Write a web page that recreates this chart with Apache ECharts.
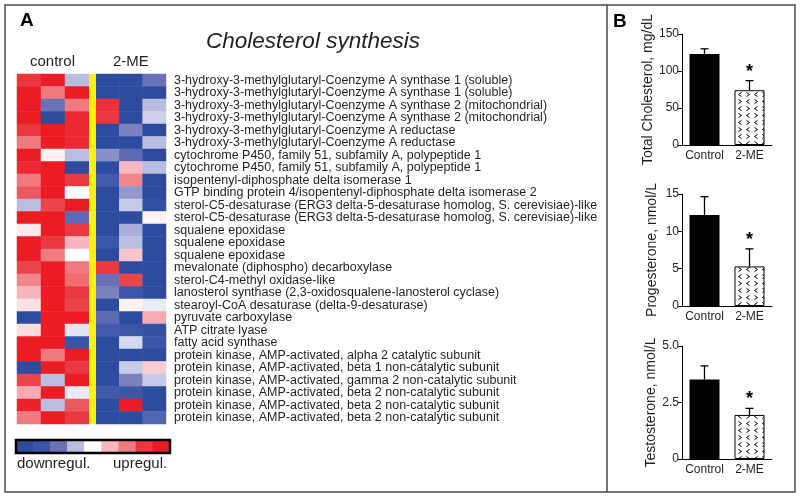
<!DOCTYPE html>
<html>
<head>
<meta charset="utf-8">
<script src="https://cdn.jsdelivr.net/npm/echarts@6/dist/echarts.min.js"></script>
<style>
html,body{margin:0;padding:0;background:#fff;}
#chart{width:800px;height:498px;}
</style>
</head>
<body>
<div id="chart"></div>
<script>
// ---------- DATA ----------
const geneLabels = [
  '3-hydroxy-3-methylglutaryl-Coenzyme A synthase 1 (soluble)',
  '3-hydroxy-3-methylglutaryl-Coenzyme A synthase 1 (soluble)',
  '3-hydroxy-3-methylglutaryl-Coenzyme A synthase 2 (mitochondrial)',
  '3-hydroxy-3-methylglutaryl-Coenzyme A synthase 2 (mitochondrial)',
  '3-hydroxy-3-methylglutaryl-Coenzyme A reductase',
  '3-hydroxy-3-methylglutaryl-Coenzyme A reductase',
  'cytochrome P450, family 51, subfamily A, polypeptide 1',
  'cytochrome P450, family 51, subfamily A, polypeptide 1',
  'isopentenyl-diphosphate delta isomerase 1',
  'GTP binding protein 4/isopentenyl-diphosphate delta isomerase 2',
  'sterol-C5-desaturase (ERG3 delta-5-desaturase homolog, S. cerevisiae)-like',
  'sterol-C5-desaturase (ERG3 delta-5-desaturase homolog, S. cerevisiae)-like',
  'squalene epoxidase',
  'squalene epoxidase',
  'squalene epoxidase',
  'mevalonate (diphospho) decarboxylase',
  'sterol-C4-methyl oxidase-like',
  'lanosterol synthase (2,3-oxidosqualene-lanosterol cyclase)',
  'stearoyl-CoA desaturase (delta-9-desaturase)',
  'pyruvate carboxylase',
  'ATP citrate lyase',
  'fatty acid synthase',
  'protein kinase, AMP-activated, alpha 2 catalytic subunit',
  'protein kinase, AMP-activated, beta 1 non-catalytic subunit',
  'protein kinase, AMP-activated, gamma 2 non-catalytic subunit',
  'protein kinase, AMP-activated, beta 2 non-catalytic subunit',
  'protein kinase, AMP-activated, beta 2 non-catalytic subunit',
  'protein kinase, AMP-activated, beta 2 non-catalytic subunit'
];
const controlCols = ['c1','c2','c3'];
const meCols = ['m1','m2','m3'];
const controlValues = [
  [3,4,-1],[4,2,4],[4,-2,2],[4,-4,3.5],[3,4,3.5],[2,4,3.5],[4,0.2,-1],[3.5,4,-4],
  [2,4,3],[2.5,4,0],[-1,2.8,4],[4,4,-2.3],[0.3,4,3],[4,3,1],[4,2,0],[2.8,4,2],
  [1.8,4,2.2],[1,4,3],[0.4,4,2.8],[-4,4,4],[0.5,4,-0.4],[4,4,-3],[4,2,4],[-4,4,3],
  [2.8,-1,4],[1.2,4,-0.3],[3.8,-1,2.5],[2,4,3]
];
const meValues = [
  [-4,-4,-2],[-4,-4,-4],[3.3,-4,-1],[3,-4,-0.7],[-4,-1.8,-4],[-4,-4,-1],[-1.6,-2.3,-4],[-4,1,-1],
  [-2.8,1.8,-4],[-4,-1.5,-4],[-4,-0.8,-3.5],[-4,-4,0.2],[-4,-1.2,-4],[-3,-1,-4],[-4,0.8,-4],[3,-4,-4],
  [-2,2.8,-4],[-1.8,-3,-4],[-4,0.2,-0.3],[-2.3,-4,1.2],[-2.8,-3,-3.5],[-4,-0.6,-3],[-4,-4,-4],[-4,-0.8,0.7],
  [-4,-1.8,-0.8],[-2.8,-3,-4],[-4,4,-4],[-4,-4,-2.5]
];
const colorbarSteps = [-4,-3,-2,-1,0,1,2,3,4];
const heatColors = ['#2e4c9f','#3b55a9','#6a72b7','#b9bde0','#ffffff','#f8b7bf','#f07a80','#ea383f','#ec1c24'];

const groups = ['Control','2-ME'];
const cholMean = [123, 74];
const cholErr = [7, 13];
const progMean = [12.2, 5.3];
const progErr = [2.45, 2.35];
const testMean = [3.52, 1.95];
const testErr = [0.6, 0.29];
const significant = [0, 1];
const cholTicks = {min:0, max:150, interval:50, decimals:0};
const progTicks = {min:0, max:15, interval:5, decimals:0};
const testTicks = {min:0, max:5, interval:2.5, decimals:1};

// ---------- BUILD ----------
const FONT = "'Liberation Sans', Arial, sans-serif";
const TXT = '#231f20';

function heatData(rows){
  const out = [];
  rows.forEach((r, yi) => r.forEach((v, xi) => out.push([xi, yi, v])));
  return out;
}

// chevron pattern for 2-ME bars
const pat = document.createElement('canvas');
pat.width = 16; pat.height = 14;
(function(){
  const c = pat.getContext('2d');
  c.fillStyle = '#fff'; c.fillRect(0,0,16,14);
  c.strokeStyle = '#000'; c.lineWidth = 1;
  function gt(x,y){c.beginPath();c.moveTo(x,y);c.lineTo(x+3,y+2);c.lineTo(x,y+4);c.stroke();}
  function lt(x,y){c.beginPath();c.moveTo(x+3,y);c.lineTo(x,y+2);c.lineTo(x+3,y+4);c.stroke();}
  gt(2.5,1.5); lt(10.5,1.5); lt(2.5,8.5); gt(10.5,8.5);
})();

function errRender(params, api){
  const x = api.value(0), m = api.value(1), e = api.value(2), s = api.value(3);
  const p0 = api.coord([x, m]);
  const p1 = api.coord([x, m + e]);
  const ch = [
    {type:'line', shape:{x1:p0[0], y1:p0[1], x2:p1[0], y2:p1[1]}, style:{stroke:'#000', lineWidth:1.3}},
    {type:'line', shape:{x1:p1[0]-4, y1:p1[1], x2:p1[0]+4, y2:p1[1]}, style:{stroke:'#000', lineWidth:1.3}}
  ];
  if (s) ch.push({type:'text', style:{text:'*', x:p1[0], y:p1[1]-9, align:'center', verticalAlign:'middle', font:'bold 18px ' + FONT, fill:'#000'}});
  return {type:'group', children: ch};
}

const barGrids = [
  {top:34, height:111, name:'Total Cholesterol, mg/dL', ticks:cholTicks, mean:cholMean, err:cholErr},
  {top:194, height:112, name:'Progesterone, nmol/L', ticks:progTicks, mean:progMean, err:progErr},
  {top:346, height:113, name:'Testosterone, nmol/L', ticks:testTicks, mean:testMean, err:testErr}
];

const grid = [
  {left:17, top:74, width:72, height:350},
  {left:96, top:74, width:70, height:350},
  {left:16, top:440, width:154, height:13}
];
const xAxis = [
  {gridIndex:0, type:'category', data:controlCols, show:false},
  {gridIndex:1, type:'category', data:meCols, show:false},
  {gridIndex:2, type:'category', data:colorbarSteps.map(String), show:false}
];
const yAxis = [
  {gridIndex:0, type:'category', data:geneLabels, inverse:true, show:false},
  {gridIndex:1, type:'category', data:geneLabels, inverse:true, position:'right',
    axisLine:{show:false}, axisTick:{show:false}, splitLine:{show:false},
    axisLabel:{interval:0, margin:8, fontSize:12.5, fontFamily:FONT, color:TXT}},
  {gridIndex:2, type:'category', data:['s'], show:false}
];
const series = [
  {type:'heatmap', xAxisIndex:0, yAxisIndex:0, data:heatData(controlValues), emphasis:{disabled:true}},
  {type:'heatmap', xAxisIndex:1, yAxisIndex:1, data:heatData(meValues), emphasis:{disabled:true}},
  {type:'heatmap', xAxisIndex:2, yAxisIndex:2, data:colorbarSteps.map((v,i)=>[i,0,v]), emphasis:{disabled:true}}
];

barGrids.forEach((g, k) => {
  const gi = 3 + k;
  grid.push({left:682, top:g.top, width:90, height:g.height});
  xAxis.push({gridIndex:gi, type:'category', data:groups,
    axisLine:{lineStyle:{color:'#000', width:1}}, axisTick:{show:false},
    axisLabel:{interval:0, hideOverlap:false, fontSize:12, fontFamily:FONT, color:TXT, margin:5}});
  yAxis.push({gridIndex:gi, type:'value', min:g.ticks.min, max:g.ticks.max, interval:g.ticks.interval,
    name:g.name, nameLocation:'middle', nameGap:23, nameRotate:90,
    nameTextStyle:{fontSize:14, fontFamily:FONT, color:TXT},
    axisLine:{show:true, lineStyle:{color:'#000', width:1}},
    axisTick:{show:true, length:4, lineStyle:{color:'#000'}},
    splitLine:{show:false},
    axisLabel:{fontSize:12, fontFamily:FONT, color:TXT, margin:3,
      formatter: v => v === 0 ? '0' : v.toFixed(g.ticks.decimals)}});
  series.push({type:'bar', xAxisIndex:gi, yAxisIndex:gi, barWidth:30, silent:true,
    data: g.mean.map((m, i) => ({value:m, itemStyle: i === 0
      ? {color:'#000'}
      : {color:{image:pat, repeat:'repeat'}, borderColor:'#000', borderWidth:1}}))});
  series.push({type:'custom', xAxisIndex:gi, yAxisIndex:gi, z:5, silent:true,
    renderItem: errRender,
    data: g.mean.map((m, i) => [i, m, g.err[i], significant[i]])});
});

const graphic = [
  {type:'rect', shape:{x:5, y:5, width:790, height:487}, style:{fill:'none', stroke:'#4a4a4a', lineWidth:1.5}, z:50},
  {type:'line', shape:{x1:607, y1:5, x2:607, y2:492}, style:{stroke:'#4a4a4a', lineWidth:1.5}, z:50},
  {type:'rect', shape:{x:89, y:74, width:7, height:350}, style:{fill:'#fff200'}, z:50},
  {type:'rect', shape:{x:16, y:440, width:154, height:13}, style:{fill:'none', stroke:'#000', lineWidth:2.5}, z:50},
  {type:'text', x:20, y:21, style:{text:'A', font:'bold 19px ' + FONT, fill:'#000', verticalAlign:'middle'}},
  {type:'text', x:613, y:22, style:{text:'B', font:'bold 19px ' + FONT, fill:'#000', verticalAlign:'middle'}},
  {type:'text', x:313, y:42, style:{text:'Cholesterol synthesis', font:'italic 22.5px ' + FONT, fill:TXT, align:'center', verticalAlign:'middle'}},
  {type:'text', x:30, y:62, style:{text:'control', font:'15px ' + FONT, fill:TXT, verticalAlign:'middle'}},
  {type:'text', x:113, y:62, style:{text:'2-ME', font:'15px ' + FONT, fill:TXT, verticalAlign:'middle'}},
  {type:'text', x:17, y:464, style:{text:'downregul.', font:'15px ' + FONT, fill:TXT, verticalAlign:'middle'}},
  {type:'text', x:113, y:464, style:{text:'upregul.', font:'15px ' + FONT, fill:TXT, verticalAlign:'middle'}}
];

const chart = echarts.init(document.getElementById('chart'), null, {renderer:'canvas'});
chart.setOption({
  animation:false,
  backgroundColor:'#fff',
  grid, xAxis, yAxis, series, graphic,
  visualMap:{type:'continuous', show:false, min:-4, max:4, dimension:2, seriesIndex:[0,1,2],
    inRange:{color:heatColors}}
});
</script>
</body>
</html>
